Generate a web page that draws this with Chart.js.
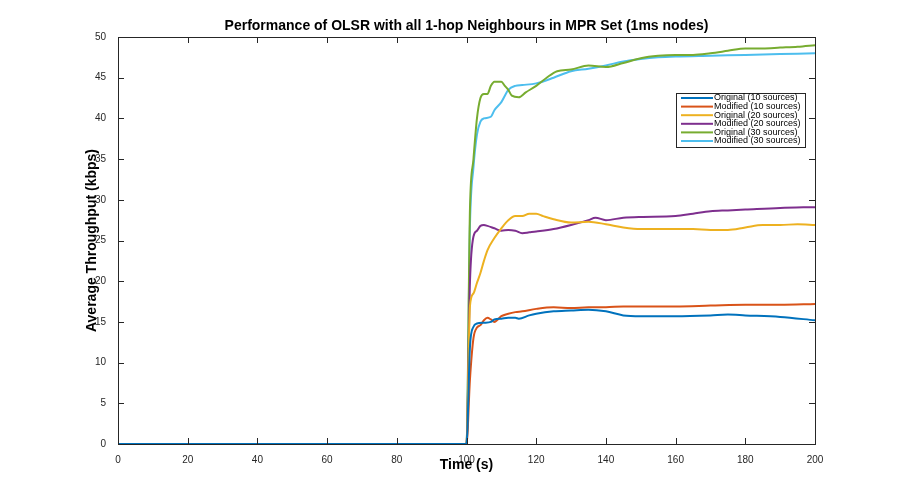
<!DOCTYPE html><html><head><script src="https://cdn.jsdelivr.net/npm/chart.js@4"></script>
<style>body{margin:0;background:#fff}#w{width:900px;height:500px}</style></head><body><div id="w"><canvas id="c"></canvas></div>
<script>
const seriesNames=["Original (10 sources)","Modified (10 sources)","Original (20 sources)","Modified (20 sources)","Original (30 sources)","Modified (30 sources)"];
const colors=["#0072BD","#D95319","#EDB120","#7E2F8E","#77AC30","#4DBEEE"];
const tO10=[0,100,101,102,103,105,107,108,110,112,114,115,118,120,125,130,135,140,145,150,160,170,175,180,190,200];
const vO10=[0,0,12,14.4,14.8,14.9,15,15.3,15.4,15.5,15.5,15.4,15.8,16,16.3,16.4,16.5,16.3,15.8,15.7,15.7,15.8,15.9,15.8,15.6,15.2];
const tM10=[0,100,101,102,103,104,105,106,107,108,109,110,112,114,116,120,125,130,135,140,145,150,160,170,180,190,200];
const vM10=[0,0,8,13,14.3,14.6,15.2,15.5,15.3,15,15.3,15.7,16,16.2,16.3,16.6,16.8,16.7,16.8,16.8,16.9,16.9,16.9,17,17.1,17.1,17.2];
const tO20=[0,100,101,102,103,104,105,106,108,110,112,114,116,118,120,122,125,130,135,140,145,150,155,160,165,170,175,180,185,190,195,200];
const vO20=[0,0,17,18.5,19.8,21,22.5,23.8,25.3,26.5,27.5,28,28,28.3,28.3,28,27.6,27.2,27.3,27,26.6,26.4,26.4,26.4,26.4,26.3,26.3,26.6,26.9,26.9,27,26.9];
const tM20=[0,100,101,102,103,104,105,106,108,110,112,114,116,118,120,125,130,135,137,140,145,150,160,165,170,175,180,190,200];
const vM20=[0,0,20,25.5,26.2,26.8,26.9,26.8,26.5,26.2,26.3,26.2,25.9,26,26.1,26.4,26.9,27.5,27.8,27.5,27.8,27.9,28,28.3,28.6,28.7,28.8,29,29.1];
const tO30=[0,100,101,102,103,104,105,106,107,108,110,111,112,113,115,117,120,123,126,130,135,140,145,150,155,160,165,170,175,180,185,190,195,200];
const vO30=[0,0,29,35,40,42.5,43,43,44,44.5,44.5,44,43.5,42.8,42.6,43.2,44,45,45.8,46,46.5,46.3,46.8,47.4,47.7,47.8,47.8,48,48.3,48.6,48.6,48.7,48.8,49];
const tM30=[0,100,101,102,103,104,105,107,108,110,112,114,116,120,125,130,135,140,145,150,155,160,170,180,190,200];
const vM30=[0,0,27,34,38,39.6,40,40.2,41,42,43.5,44,44.1,44.3,45,45.8,46.1,46.5,47,47.3,47.5,47.6,47.7,47.8,47.9,48];
const times=[tO10,tM10,tO20,tM20,tO30,tM30], vals=[vO10,vM10,vO20,vM20,vO30,vM30];
const F="'Liberation Sans', Arial, sans-serif";
const deco={id:'deco',afterDraw(ch){const c=ch.ctx,a=ch.chartArea;c.save();
c.strokeStyle='#262626';c.lineWidth=1;c.strokeRect(Math.round(a.left)+.5,Math.round(a.top)+.5,Math.round(a.right-a.left),Math.round(a.bottom-a.top));
const xs=ch.scales.x,ys=ch.scales.y;c.beginPath();
for(let v=0;v<=200;v+=20){const p=Math.round(xs.getPixelForValue(v))+.5;c.moveTo(p,a.bottom);c.lineTo(p,a.bottom-6);c.moveTo(p,a.top);c.lineTo(p,a.top+6);}
for(let v=0;v<=50;v+=5){const p=Math.round(ys.getPixelForValue(v))+.5;c.moveTo(a.left,p);c.lineTo(a.left+6,p);c.moveTo(a.right,p);c.lineTo(a.right-6,p);}
c.stroke();
c.fillStyle='#000';c.font='bold 14px '+F;c.textAlign='center';c.fillText('Performance of OLSR with all 1-hop Neighbours in MPR Set (1ms nodes)',(a.left+a.right)/2,30);
c.font='bold 14px '+F;c.textBaseline='middle';c.fillText('Time (s)',(a.left+a.right)/2,465);
c.save();c.translate(92,(a.top+a.bottom)/2);c.rotate(-Math.PI/2);c.fillText('Average Throughput (kbps)',0,0);c.restore();
const lx=676,ly=93,lw=129,lh=54;c.fillStyle='#fff';c.fillRect(lx,ly,lw,lh);c.strokeStyle='#262626';c.strokeRect(lx+.5,ly+.5,lw,lh);
c.font='9px '+F;c.textAlign='left';c.textBaseline='middle';
seriesNames.forEach((n,i)=>{const y=ly+5+i*8.6;c.strokeStyle=colors[i];c.lineWidth=2;c.beginPath();c.moveTo(lx+5,y);c.lineTo(lx+37,y);c.stroke();c.fillStyle='#000';c.fillText(n,lx+38,y);});
c.restore();}};
new Chart(document.getElementById('c'),{type:'line',
data:{datasets:seriesNames.map((n,i)=>({label:n,data:times[i].map((t,j)=>({x:t,y:vals[i][j]})),borderColor:colors[i],borderWidth:2,pointRadius:0,cubicInterpolationMode:'monotone',fill:false}))},
options:{responsive:true,maintainAspectRatio:false,animation:false,layout:{padding:{top:37,right:85,left:0,bottom:0}},
plugins:{legend:{display:false},tooltip:{enabled:false}},
scales:{x:{type:'linear',min:0,max:200,afterFit(s){s.height=56},grid:{display:false},border:{display:false},
ticks:{stepSize:20,color:'#262626',font:{family:F,size:10},padding:2}},
y:{min:0,max:50,afterFit(s){s.width=118},grid:{display:false},border:{display:false},
ticks:{stepSize:5,color:'#262626',font:{family:F,size:10},padding:4}}}},
plugins:[deco]});
</script></body></html>
